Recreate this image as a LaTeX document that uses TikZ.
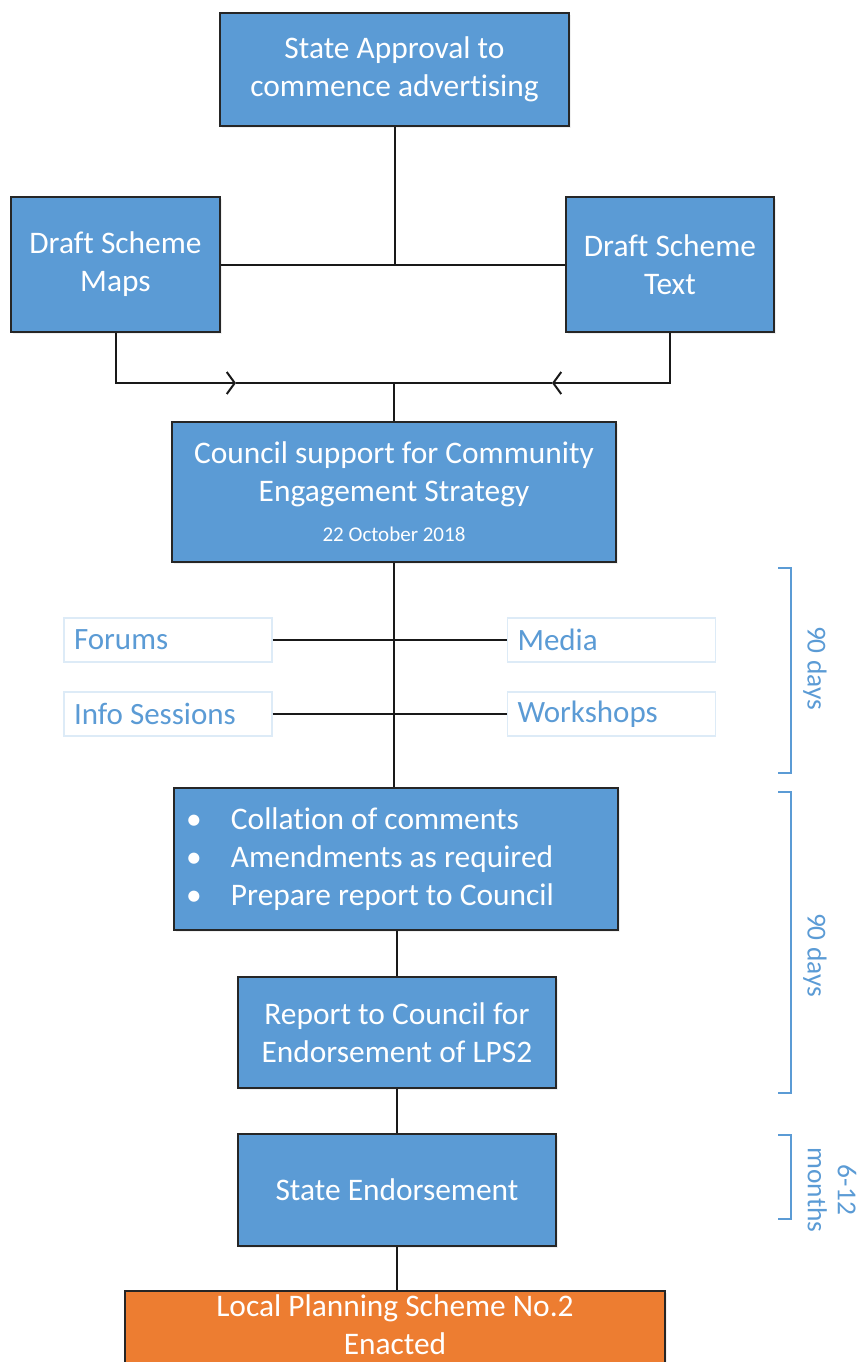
\documentclass[tikz,border=0pt]{standalone}
\usepackage{fontspec}
\setmainfont{Carlito}[Ligatures=NoCommon]
\usepackage[dvipsnames]{xcolor}
\usepackage{tikz}
\usetikzlibrary{arrows.meta}
\usetikzlibrary{shadows}

\definecolor{stageblue}{HTML}{5B9BD5}
\definecolor{finalorange}{HTML}{ED7D31}
\definecolor{paleblue}{HTML}{DDEBF7}

\tikzset{
  stage/.style={draw=black!85, line width=0.9pt, fill=stageblue, text=white, align=center,
    inner sep=0pt, font=\fontsize{15.7}{19}\selectfont,
    drop shadow={opacity=0.12, shadow xshift=0.8pt, shadow yshift=-1.2pt}},
  final/.style={stage, fill=finalorange},
  channel/.style={draw=paleblue, line width=0.7pt, fill=white, text=stageblue, align=flush left,
    minimum width=104pt, minimum height=22pt, text width=94pt, inner xsep=5pt,
    font=\fontsize{15.5}{19}\selectfont},
  link/.style={line width=1pt, black!90},
  barb/.style={-{Straight Barb[length=4pt,width=11pt]}},
  period/.style={stageblue, line width=0.8pt},
  periodlabel/.style={text=stageblue, rotate=-90, align=center, font=\fontsize{13.7}{15}\selectfont}
}

\begin{document}
\begin{tikzpicture}[x=0.5pt,y=-0.5pt]
  \useasboundingbox (0,0) rectangle (858,1362);

  \node[stage, minimum width=174.5pt, minimum height=56.5pt] (approval) at (394.5,69.5) {State Approval to\\commence advertising};
  \node[stage, minimum width=104.5pt, minimum height=67.5pt] (maps) at (115.5,264.5) {Draft Scheme\\Maps};
  \node[stage, minimum width=104pt, minimum height=67.5pt] (schemetext) at (670,264.5) {Draft Scheme\\Text};
  \node[stage, minimum width=222pt, minimum height=70pt] (council) at (394,492)
    {Council support for Community\\Engagement Strategy\\[1pt]{\fontsize{10.5}{12}\selectfont 22 October 2018}};

  \node[channel] (forums) at (168,640) {Forums};
  \node[channel] (media) at (611.5,640) {Media};
  \node[channel] (info) at (168,714) {Info Sessions};
  \node[channel] (workshops) at (611.5,714) {Workshops};

  \node[stage, minimum width=222pt, minimum height=71pt, align=flush left, inner xsep=6pt, text width=210pt] (collation) at (396,859)
    {\makebox[22.5pt][l]{\textbullet}Collation of comments\\
     \makebox[22.5pt][l]{\textbullet}Amendments as required\\
     \makebox[22.5pt][l]{\textbullet}Prepare report to Council};
  \node[stage, minimum width=159pt, minimum height=55.5pt] (report) at (397,1032.5) {Report to Council for\\Endorsement of LPS2};
  \node[stage, minimum width=159pt, minimum height=56pt] (endorse) at (397,1190) {State Endorsement};
  \node[final, minimum width=270pt, minimum height=50pt, anchor=north] (enacted) at (395,1290)
    {Local Planning Scheme No.2\\Enacted\rule[-16pt]{0pt}{0pt}};

  \coordinate (join) at (394,383);
  \coordinate (inL) at (236,383);
  \coordinate (inR) at (552,383);

  \draw[link] (approval.south) -- (approval.south |- maps.east);
  \draw[link] (maps.east) -- (schemetext.west);
  \draw[link, barb] (maps.south) |- (inL);
  \draw[link, barb] (schemetext.south) |- (inR);
  \draw[link] (inL) -- (inR);
  \draw[link] (join) -- (join |- council.north);

  \draw[link] (council.south) -- (council.south |- collation.north);
  \draw[link] (forums.east) -- (media.west);
  \draw[link] (info.east) -- (workshops.west);
  \draw[link] (report.north |- collation.south) -- (report.north);
  \draw[link] (report.south) -- (endorse.north);
  \draw[link] (endorse.south) -- (endorse.south |- enacted.north);

  \draw[period] (778,568) -- (791,568) -- (791,773) -- (778,773);
  \draw[period] (778,792) -- (791,792) -- (791,1093) -- (778,1093);
  \draw[period] (778,1135) -- (791,1135) -- (791,1219) -- (778,1219);
  \node[periodlabel] (review) at (815,668) {90 days};
  \node[periodlabel] (collate) at (815,955) {90 days};
  \node[periodlabel] (assess) at (832,1190) {6-12\\months};
\end{tikzpicture}
\end{document}
